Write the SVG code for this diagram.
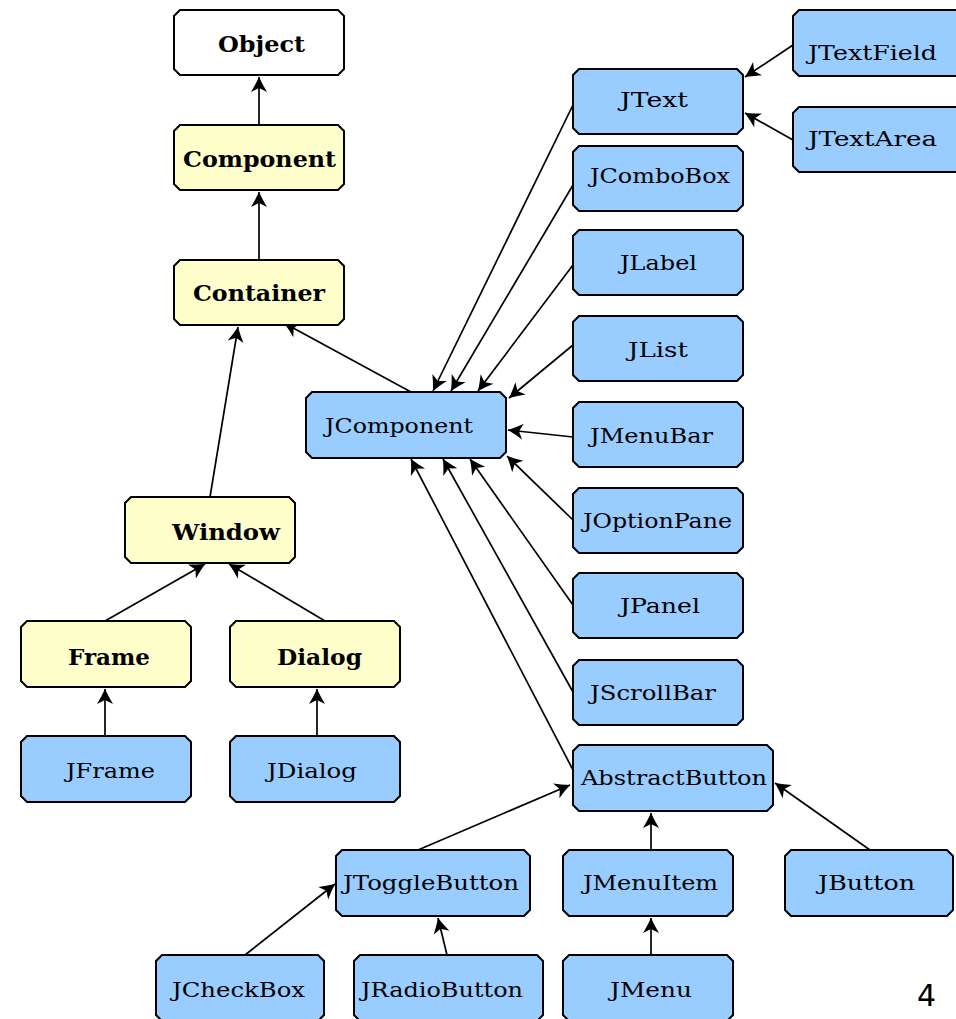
<svg xmlns="http://www.w3.org/2000/svg" width="956" height="1019" viewBox="0 0 956 1019">
  <style>
    .box { stroke: #000; stroke-width: 2; }
    .awt { fill: #FFFFCC; }
    .root { fill: #FFFFFF; }
    .swing { fill: #99CCFF; }
    .lbl-b { font-family: "DejaVu Serif", "Liberation Serif", serif; font-weight: bold; font-size: 23px; fill: #000; }
    .lbl { font-family: "DejaVu Serif", "Liberation Serif", serif; font-size: 20px; fill: #000; }
    .edge { stroke: #000; stroke-width: 1.7; fill: none; marker-end: url(#head); }
    .page { font-family: "DejaVu Sans", sans-serif; font-size: 30px; fill: #000; }
  </style>
  <defs>
    <!-- barbed, filled arrowhead for generalisation edges -->
    <marker id="head" viewBox="-16 -9 17 18" refX="0" refY="0" markerWidth="17" markerHeight="18" markerUnits="userSpaceOnUse" orient="auto">
      <path d="M0,0 L-8,-4 L-15,-8 L-11,0 L-15,8 L-8,4 Z" fill="#000"/>
    </marker>
  </defs>
  <rect width="956" height="1019" fill="#fff"/>

  <!-- inheritance edges: child to parent -->
  <g id="edges">
    <line class="edge" x1="259" y1="125" x2="259" y2="77"/>
    <line class="edge" x1="259" y1="260" x2="259" y2="192"/>
    <line class="edge" x1="210" y1="497" x2="238" y2="327"/>
    <line class="edge" x1="411" y1="392" x2="284" y2="323"/>
    <line class="edge" x1="105" y1="621" x2="205" y2="564"/>
    <line class="edge" x1="325" y1="621" x2="229" y2="564"/>
    <line class="edge" x1="105" y1="736" x2="105" y2="689"/>
    <line class="edge" x1="317" y1="736" x2="317" y2="689"/>
    <line class="edge" x1="573" y1="105" x2="433" y2="391"/>
    <line class="edge" x1="573" y1="185" x2="451" y2="391"/>
    <line class="edge" x1="573" y1="265" x2="478" y2="391"/>
    <line class="edge" x1="573" y1="345" x2="509" y2="398"/>
    <line class="edge" x1="573" y1="437" x2="508" y2="430"/>
    <line class="edge" x1="573" y1="520" x2="507" y2="456"/>
    <line class="edge" x1="573" y1="605" x2="470" y2="459"/>
    <line class="edge" x1="573" y1="692" x2="443" y2="459"/>
    <line class="edge" x1="573" y1="770" x2="411" y2="459"/>
    <line class="edge" x1="793" y1="45" x2="745" y2="77"/>
    <line class="edge" x1="793" y1="140" x2="745" y2="113"/>
    <line class="edge" x1="418" y1="850" x2="570" y2="785"/>
    <line class="edge" x1="651" y1="850" x2="651" y2="813"/>
    <line class="edge" x1="870" y1="850" x2="775" y2="783"/>
    <line class="edge" x1="245" y1="955" x2="335" y2="884"/>
    <line class="edge" x1="447" y1="955" x2="438" y2="918"/>
    <line class="edge" x1="651" y1="955" x2="651" y2="918"/>
  </g>

  <g id="Object">
    <path class="box root" d="M180,10 H338 L344,16 V69 L338,75 H180 L174,69 V16 Z"/>
    <text class="lbl-b" x="218" y="52" textLength="87" lengthAdjust="spacingAndGlyphs">Object</text>
  </g>
  <g id="Component">
    <path class="box awt" d="M180,125 H338 L344,131 V184 L338,190 H180 L174,184 V131 Z"/>
    <text class="lbl-b" x="183" y="167" textLength="153" lengthAdjust="spacingAndGlyphs">Component</text>
  </g>
  <g id="Container">
    <path class="box awt" d="M180,260 H338 L344,266 V319 L338,325 H180 L174,319 V266 Z"/>
    <text class="lbl-b" x="193" y="301" textLength="132" lengthAdjust="spacingAndGlyphs">Container</text>
  </g>
  <g id="Window">
    <path class="box awt" d="M131,497 H289 L295,503 V557 L289,563 H131 L125,557 V503 Z"/>
    <text class="lbl-b" x="172" y="540" textLength="108" lengthAdjust="spacingAndGlyphs">Window</text>
  </g>
  <g id="Frame">
    <path class="box awt" d="M27,621 H185 L191,627 V681 L185,687 H27 L21,681 V627 Z"/>
    <text class="lbl-b" x="68" y="665" textLength="82" lengthAdjust="spacingAndGlyphs">Frame</text>
  </g>
  <g id="Dialog">
    <path class="box awt" d="M236,621 H394 L400,627 V681 L394,687 H236 L230,681 V627 Z"/>
    <text class="lbl-b" x="277" y="665" textLength="85" lengthAdjust="spacingAndGlyphs">Dialog</text>
  </g>
  <g id="JFrame">
    <path class="box swing" d="M27,736 H185 L191,742 V796 L185,802 H27 L21,796 V742 Z"/>
    <text class="lbl" x="66" y="778" textLength="89" lengthAdjust="spacingAndGlyphs">JFrame</text>
  </g>
  <g id="JDialog">
    <path class="box swing" d="M236,736 H394 L400,742 V796 L394,802 H236 L230,796 V742 Z"/>
    <text class="lbl" x="267" y="778" textLength="90" lengthAdjust="spacingAndGlyphs">JDialog</text>
  </g>
  <g id="JComponent">
    <path class="box swing" d="M312,392 H500 L506,398 V452 L500,458 H312 L306,452 V398 Z"/>
    <text class="lbl" x="325" y="433" textLength="148" lengthAdjust="spacingAndGlyphs">JComponent</text>
  </g>
  <g id="JText">
    <path class="box swing" d="M579,69 H737 L743,75 V128 L737,134 H579 L573,128 V75 Z"/>
    <text class="lbl" x="620" y="107" textLength="68" lengthAdjust="spacingAndGlyphs">JText</text>
  </g>
  <g id="JComboBox">
    <path class="box swing" d="M579,146 H737 L743,152 V205 L737,211 H579 L573,205 V152 Z"/>
    <text class="lbl" x="590" y="183" textLength="140" lengthAdjust="spacingAndGlyphs">JComboBox</text>
  </g>
  <g id="JLabel">
    <path class="box swing" d="M579,230 H737 L743,236 V289 L737,295 H579 L573,289 V236 Z"/>
    <text class="lbl" x="620" y="270" textLength="77" lengthAdjust="spacingAndGlyphs">JLabel</text>
  </g>
  <g id="JList">
    <path class="box swing" d="M579,316 H737 L743,322 V375 L737,381 H579 L573,375 V322 Z"/>
    <text class="lbl" x="628" y="357" textLength="60" lengthAdjust="spacingAndGlyphs">JList</text>
  </g>
  <g id="JMenuBar">
    <path class="box swing" d="M579,402 H737 L743,408 V461 L737,467 H579 L573,461 V408 Z"/>
    <text class="lbl" x="590" y="443" textLength="123" lengthAdjust="spacingAndGlyphs">JMenuBar</text>
  </g>
  <g id="JOptionPane">
    <path class="box swing" d="M579,488 H737 L743,494 V547 L737,553 H579 L573,547 V494 Z"/>
    <text class="lbl" x="583" y="528" textLength="149" lengthAdjust="spacingAndGlyphs">JOptionPane</text>
  </g>
  <g id="JPanel">
    <path class="box swing" d="M579,573 H737 L743,579 V632 L737,638 H579 L573,632 V579 Z"/>
    <text class="lbl" x="620" y="613" textLength="80" lengthAdjust="spacingAndGlyphs">JPanel</text>
  </g>
  <g id="JScrollBar">
    <path class="box swing" d="M579,660 H737 L743,666 V719 L737,725 H579 L573,719 V666 Z"/>
    <text class="lbl" x="590" y="700" textLength="126" lengthAdjust="spacingAndGlyphs">JScrollBar</text>
  </g>
  <g id="AbstractButton">
    <path class="box swing" d="M579,745 H767 L773,751 V805 L767,811 H579 L573,805 V751 Z"/>
    <text class="lbl" x="581" y="785" textLength="186" lengthAdjust="spacingAndGlyphs">AbstractButton</text>
  </g>
  <g id="JTextField">
    <path class="box swing" d="M799,10 H957 L963,16 V70 L957,76 H799 L793,70 V16 Z"/>
    <text class="lbl" x="808" y="60" textLength="129" lengthAdjust="spacingAndGlyphs">JTextField</text>
  </g>
  <g id="JTextArea">
    <path class="box swing" d="M799,107 H957 L963,113 V166 L957,172 H799 L793,166 V113 Z"/>
    <text class="lbl" x="808" y="146" textLength="129" lengthAdjust="spacingAndGlyphs">JTextArea</text>
  </g>
  <g id="JToggleButton">
    <path class="box swing" d="M342,850 H524 L530,856 V910 L524,916 H342 L336,910 V856 Z"/>
    <text class="lbl" x="343" y="890" textLength="176" lengthAdjust="spacingAndGlyphs">JToggleButton</text>
  </g>
  <g id="JMenuItem">
    <path class="box swing" d="M569,850 H727 L733,856 V910 L727,916 H569 L563,910 V856 Z"/>
    <text class="lbl" x="583" y="890" textLength="135" lengthAdjust="spacingAndGlyphs">JMenuItem</text>
  </g>
  <g id="JButton">
    <path class="box swing" d="M791,850 H947 L953,856 V910 L947,916 H791 L785,910 V856 Z"/>
    <text class="lbl" x="818" y="890" textLength="97" lengthAdjust="spacingAndGlyphs">JButton</text>
  </g>
  <g id="JCheckBox">
    <path class="box swing" d="M162,955 H318 L324,961 V1015 L318,1021 H162 L156,1015 V961 Z"/>
    <text class="lbl" x="172" y="997" textLength="133" lengthAdjust="spacingAndGlyphs">JCheckBox</text>
  </g>
  <g id="JRadioButton">
    <path class="box swing" d="M360,955 H537 L543,961 V1015 L537,1021 H360 L354,1015 V961 Z"/>
    <text class="lbl" x="361" y="997" textLength="162" lengthAdjust="spacingAndGlyphs">JRadioButton</text>
  </g>
  <g id="JMenu">
    <path class="box swing" d="M569,955 H727 L733,961 V1015 L727,1021 H569 L563,1015 V961 Z"/>
    <text class="lbl" x="610" y="997" textLength="82" lengthAdjust="spacingAndGlyphs">JMenu</text>
  </g>

  <text class="page" x="917" y="1006">4</text>
</svg>
